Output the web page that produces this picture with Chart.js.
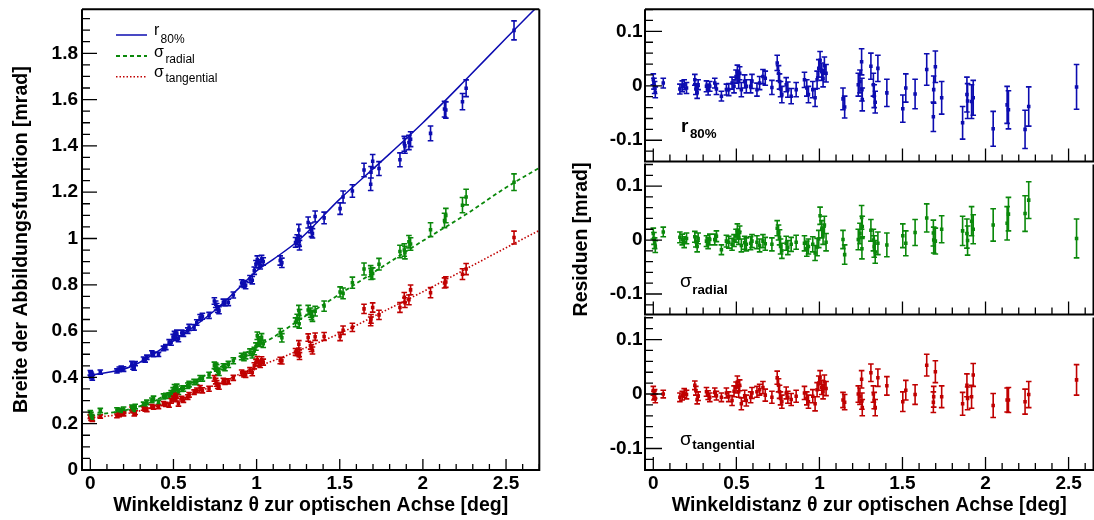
<!DOCTYPE html>
<html>
<head>
<meta charset="utf-8">
<script src="https://cdn.jsdelivr.net/npm/chart.js@4.4.1/dist/chart.umd.min.js"></script>
<style>
  html, body { margin: 0; padding: 0; background: #fff; overflow: hidden; }
  #wrap { position: relative; width: 1094px; height: 520px; overflow: hidden; }
  canvas { position: absolute; }
</style>
</head>
<body>
<div id="wrap">
  <canvas id="links" width="560" height="520" style="left:0;top:0"></canvas>
  <canvas id="resR80" width="536" height="164" style="left:560px;top:0"></canvas>
  <canvas id="resRad" width="536" height="155" style="left:560px;top:162px"></canvas>
  <canvas id="resTan" width="536" height="205" style="left:560px;top:315px"></canvas>
</div>
<script>
// Winkeldistanz der Messpunkte [deg]
const theta = [0.000,0.004,0.008,0.012,0.060,0.160,0.174,0.186,0.200,0.250,
  0.256,0.264,0.270,0.320,0.330,0.340,0.370,0.380,0.410,0.440,
  0.454,0.474,0.486,0.498,0.506,0.514,0.520,0.530,0.550,0.560,
  0.586,0.594,0.624,0.640,0.660,0.674,0.714,0.746,0.754,0.760,
  0.766,0.774,0.800,0.810,0.830,0.860,0.910,0.924,0.934,0.960,
  0.974,0.986,0.996,1.004,1.014,1.022,1.030,1.040,1.142,1.152,
  1.234,1.244,1.254,1.256,1.258,1.310,1.325,1.330,1.336,1.352,
  1.406,1.502,1.520,1.576,1.646,1.686,1.688,1.698,1.736,1.862,
  1.888,1.892,1.916,1.926,2.046,2.130,2.138,2.238,2.260,2.548];

// r80% [mrad]
const r80 = [0.420,0.413,0.406,0.398,0.423,0.428,0.435,0.440,0.436,0.459,
  0.445,0.442,0.459,0.478,0.476,0.487,0.506,0.499,0.499,0.525,
  0.531,0.552,0.551,0.574,0.587,0.573,0.592,0.567,0.592,0.589,
  0.602,0.616,0.616,0.637,0.659,0.664,0.668,0.730,0.716,0.705,
  0.695,0.690,0.725,0.723,0.724,0.756,0.808,0.803,0.798,0.825,
  0.820,0.861,0.889,0.909,0.892,0.884,0.911,0.901,0.905,0.895,
  0.983,0.995,1.037,0.987,0.971,1.069,1.046,1.029,1.022,1.095,
  1.089,1.129,1.179,1.205,1.296,1.234,1.286,1.334,1.302,1.340,
  1.409,1.400,1.415,1.429,1.454,1.559,1.555,1.591,1.649,1.899];
const r80Res = [0.012,0.004,-0.003,-0.012,0.005,-0.006,-0.001,0.002,-0.004,0.011,
  -0.006,-0.012,0.002,-0.001,-0.007,-0.001,0.005,-0.006,-0.019,-0.007,
  -0.007,0.005,-0.001,0.017,0.026,0.008,0.023,-0.007,0.008,-0.001,
  -0.001,0.008,-0.007,0.005,0.017,0.014,-0.003,0.042,0.023,0.008,
  -0.006,-0.016,0.002,-0.007,-0.019,-0.007,0.011,-0.004,-0.016,-0.007,
  -0.022,0.011,0.032,0.047,0.026,0.014,0.037,0.023,-0.024,-0.039,
  0.002,0.008,0.044,-0.007,-0.025,0.036,0.002,-0.019,-0.030,0.032,
  -0.013,-0.042,-0.004,-0.015,0.030,-0.057,-0.007,0.035,-0.022,-0.068,
  -0.016,-0.028,-0.029,-0.022,-0.079,-0.035,-0.044,-0.080,-0.038,-0.002];
const r80Err = [0.010,0.010,0.011,0.010,0.009,0.009,0.010,0.009,0.010,0.010,
  0.010,0.011,0.009,0.010,0.010,0.009,0.009,0.010,0.009,0.010,
  0.011,0.011,0.012,0.012,0.012,0.013,0.012,0.013,0.012,0.012,
  0.012,0.013,0.012,0.012,0.013,0.013,0.013,0.014,0.014,0.014,
  0.014,0.015,0.013,0.014,0.014,0.013,0.014,0.015,0.015,0.015,
  0.016,0.016,0.016,0.016,0.016,0.016,0.016,0.016,0.020,0.020,
  0.021,0.021,0.024,0.021,0.021,0.024,0.021,0.021,0.020,0.024,
  0.025,0.025,0.026,0.027,0.029,0.027,0.025,0.029,0.030,0.030,
  0.032,0.032,0.031,0.032,0.032,0.034,0.035,0.035,0.036,0.041];

// sigma radial [mrad]
const sigRad = [0.247,0.238,0.230,0.224,0.257,0.259,0.257,0.253,0.262,0.271,
  0.264,0.257,0.274,0.283,0.282,0.292,0.301,0.309,0.293,0.318,
  0.320,0.322,0.332,0.344,0.357,0.346,0.359,0.338,0.351,0.352,
  0.364,0.371,0.380,0.380,0.396,0.396,0.410,0.452,0.448,0.441,
  0.426,0.422,0.446,0.442,0.456,0.472,0.490,0.486,0.494,0.509,
  0.498,0.514,0.533,0.580,0.559,0.550,0.573,0.545,0.594,0.571,
  0.638,0.654,0.689,0.632,0.674,0.691,0.680,0.670,0.663,0.686,
  0.708,0.769,0.763,0.809,0.868,0.859,0.847,0.849,0.889,0.944,
  0.950,0.939,0.986,0.976,1.038,1.078,1.099,1.144,1.179,1.243];
const sigRadRes = [0.012,0.003,-0.006,-0.012,0.015,0.005,0.001,-0.004,0.003,0.006,
  -0.003,-0.012,0.003,-0.002,-0.006,0.001,0.001,0.007,-0.018,-0.002,
  -0.004,-0.008,-0.001,0.008,0.018,0.004,0.014,-0.010,-0.005,-0.008,
  -0.006,-0.002,-0.004,-0.010,-0.002,-0.007,-0.008,0.022,0.014,0.005,
  -0.012,-0.020,-0.006,-0.014,-0.008,-0.004,-0.006,-0.016,-0.012,-0.008,
  -0.024,-0.013,0.002,0.045,0.020,0.008,0.028,-0.004,0.001,-0.027,
  0.001,0.012,0.042,-0.016,0.025,0.018,0.000,-0.012,-0.022,-0.006,
  -0.009,0.008,-0.006,0.014,0.041,0.013,0.000,-0.002,0.020,0.017,
  0.012,-0.001,0.035,0.020,0.028,0.031,0.048,0.049,0.074,0.003];
const sigRadErr = [0.010,0.011,0.010,0.011,0.009,0.010,0.010,0.010,0.010,0.010,
  0.010,0.010,0.010,0.010,0.010,0.010,0.010,0.010,0.009,0.011,
  0.011,0.011,0.011,0.012,0.012,0.012,0.012,0.012,0.012,0.012,
  0.012,0.012,0.012,0.012,0.012,0.012,0.012,0.014,0.014,0.014,
  0.014,0.014,0.013,0.013,0.013,0.013,0.014,0.014,0.014,0.014,
  0.014,0.016,0.016,0.016,0.016,0.016,0.016,0.016,0.017,0.018,
  0.019,0.019,0.022,0.019,0.019,0.020,0.020,0.020,0.021,0.021,
  0.022,0.022,0.023,0.024,0.026,0.024,0.024,0.024,0.025,0.027,
  0.027,0.027,0.027,0.027,0.030,0.031,0.031,0.033,0.034,0.036];

// sigma tangential [mrad]
const sigTan = [0.231,0.222,0.226,0.218,0.231,0.234,0.238,0.244,0.242,0.264,
  0.255,0.241,0.248,0.266,0.262,0.260,0.275,0.271,0.273,0.287,
  0.283,0.280,0.299,0.309,0.321,0.305,0.319,0.287,0.308,0.302,
  0.315,0.325,0.336,0.344,0.354,0.344,0.351,0.396,0.384,0.374,
  0.364,0.361,0.385,0.380,0.383,0.398,0.420,0.414,0.412,0.430,
  0.420,0.450,0.465,0.477,0.462,0.456,0.476,0.466,0.473,0.472,
  0.510,0.509,0.543,0.504,0.492,0.572,0.537,0.527,0.516,0.576,
  0.577,0.577,0.604,0.616,0.696,0.642,0.653,0.702,0.670,0.702,
  0.746,0.723,0.735,0.778,0.766,0.808,0.812,0.846,0.868,1.004];
const sigTanRes = [0.006,-0.003,0.000,-0.008,0.000,-0.006,-0.003,0.002,-0.001,0.016,
  0.006,-0.010,-0.004,0.004,-0.002,-0.006,0.003,-0.003,-0.006,0.002,
  -0.005,-0.012,0.005,0.012,0.022,0.004,0.016,-0.018,-0.003,-0.012,
  -0.006,0.002,0.004,0.008,0.012,-0.002,-0.006,0.030,0.016,0.004,
  -0.008,-0.014,0.002,-0.006,-0.010,-0.004,0.002,-0.008,-0.014,-0.004,
  -0.018,0.008,0.020,0.030,0.012,0.004,0.022,0.010,-0.011,-0.015,
  0.000,-0.004,0.027,-0.013,-0.025,0.039,0.000,-0.012,-0.025,0.030,
  0.015,-0.014,0.007,-0.001,0.053,-0.015,-0.005,0.041,-0.005,-0.018,
  0.016,-0.008,-0.005,0.035,-0.021,-0.011,-0.011,-0.014,-0.001,0.026];
const sigTanErr = [0.008,0.008,0.008,0.008,0.007,0.008,0.008,0.008,0.008,0.008,
  0.008,0.008,0.008,0.008,0.008,0.008,0.008,0.008,0.008,0.009,
  0.009,0.009,0.010,0.010,0.011,0.010,0.010,0.011,0.010,0.010,
  0.010,0.010,0.010,0.010,0.011,0.011,0.011,0.012,0.012,0.012,
  0.012,0.012,0.011,0.011,0.011,0.011,0.012,0.012,0.012,0.012,
  0.013,0.013,0.013,0.013,0.013,0.013,0.013,0.013,0.014,0.014,
  0.015,0.015,0.016,0.015,0.015,0.016,0.015,0.015,0.015,0.016,
  0.017,0.018,0.018,0.018,0.020,0.019,0.019,0.020,0.020,0.021,
  0.021,0.021,0.021,0.021,0.022,0.022,0.023,0.023,0.024,0.028];

// Fitkurven
const fitTheta = [0, 0.25, 0.5, 0.75, 0.9, 1.0, 1.1, 1.25, 1.5, 1.75, 2.0, 2.25, 2.5, 2.7];
const fitR80 = [0.408, 0.448, 0.558, 0.69, 0.79, 0.86, 0.91, 0.99, 1.17, 1.333, 1.50, 1.68, 1.865, 2.01];
const fitRad = [0.235, 0.265, 0.337, 0.432, 0.492, 0.533, 0.573, 0.645, 0.76, 0.875, 0.99, 1.10, 1.22, 1.305];
const fitTan = [0.225, 0.248, 0.297, 0.367, 0.415, 0.446, 0.472, 0.515, 0.59, 0.68, 0.77, 0.865, 0.96, 1.035];

// Achsenbeschriftungen
const xTicks = [0, 0.5, 1, 1.5, 2, 2.5];
const xTickLabels = ['0', '0.5', '1', '1.5', '2', '2.5'];
const yTicks = [0, 0.2, 0.4, 0.6, 0.8, 1, 1.2, 1.4, 1.6, 1.8];
const yTickLabels = ['0', '0.2', '0.4', '0.6', '0.8', '1', '1.2', '1.4', '1.6', '1.8'];
const resTicks = [-0.1, 0, 0.1];
const resTickLabels = ['-0.1', '0', '0.1'];

const BLAU = '#0c0cb0';
const GRUEN = '#0a880a';
const ROT = '#c00000';
const SCHRIFT = "'Liberation Sans', Arial, Helvetica, sans-serif";

const tickFont = { family: SCHRIFT, size: 19, weight: 'bold' };
const titelFont = { family: SCHRIFT, size: 19.5, weight: 'bold' };

// Fehlerbalken mit kleinen Endstrichen
const fehlerbalken = {
  id: 'fehlerbalken',
  beforeDatasetsDraw(chart) {
    const { ctx, chartArea: a } = chart;
    const xs = chart.scales.x, ys = chart.scales.y;
    ctx.save();
    ctx.beginPath();
    ctx.rect(a.left, a.top, a.right - a.left, a.bottom - a.top);
    ctx.clip();
    chart.data.datasets.forEach(ds => {
      if (!ds.fehler) return;
      ctx.strokeStyle = ds.borderColor;
      ctx.lineWidth = 1.6;
      ctx.beginPath();
      ds.data.forEach((p, i) => {
        const px = xs.getPixelForValue(p.x);
        const y1 = ys.getPixelForValue(p.y - ds.fehler[i]);
        const y2 = ys.getPixelForValue(p.y + ds.fehler[i]);
        ctx.moveTo(px, y1); ctx.lineTo(px, y2);
        ctx.moveTo(px - 2.8, y1); ctx.lineTo(px + 2.8, y1);
        ctx.moveTo(px - 2.8, y2); ctx.lineTo(px + 2.8, y2);
      });
      ctx.stroke();
    });
    ctx.restore();
  }
};

// Striche nach innen (ROOT-Stil) und Rahmen
function achsenPlugin(c) {
  return {
    id: 'rootAchsen',
    afterDatasetsDraw(chart) {
      const { ctx, chartArea: a } = chart;
      const xs = chart.scales.x, ys = chart.scales.y;
      ctx.save();
      ctx.strokeStyle = '#000';
      ctx.lineWidth = 1.3;
      ctx.beginPath();
      for (let n = Math.ceil(xs.min / c.xKlein - 1e-6); n <= Math.floor(xs.max / c.xKlein + 1e-6); n++) {
        const v = n * c.xKlein;
        const gross = Math.abs(v / c.xGross - Math.round(v / c.xGross)) < 1e-6;
        const px = xs.getPixelForValue(v);
        ctx.moveTo(px, a.bottom);
        ctx.lineTo(px, a.bottom - (gross ? c.xLang : c.xKurz));
      }
      for (let n = Math.ceil(ys.min / c.yKlein - 1e-6); n <= Math.floor(ys.max / c.yKlein + 1e-6); n++) {
        const v = n * c.yKlein;
        const gross = Math.abs(v / c.yGross - Math.round(v / c.yGross)) < 1e-6;
        const py = ys.getPixelForValue(v);
        ctx.moveTo(a.left, py);
        ctx.lineTo(a.left + (gross ? c.yLang : c.yKurz), py);
      }
      ctx.stroke();
      // Rahmen; bei den unteren Residuen-Bildern ohne obere Kante (liegt auf der Achse darueber)
      ctx.lineWidth = 2;
      ctx.beginPath();
      if (c.obenRand !== false) {
        ctx.moveTo(a.left, a.top);
        ctx.lineTo(a.right, a.top);
      }
      ctx.moveTo(a.right, a.top);
      ctx.lineTo(a.right, a.bottom);
      ctx.lineTo(a.left, a.bottom);
      ctx.lineTo(a.left, a.top - (c.obenRand === false ? 1 : 0));
      ctx.stroke();
      ctx.restore();
    }
  };
}

// Legende und Beschriftungen mit Index
function textPlugin(eintraege) {
  return {
    id: 'beschriftung',
    afterDraw(chart) {
      const { ctx, chartArea: a } = chart;
      ctx.save();
      eintraege.forEach(e => {
        if (e.linie) {
          ctx.strokeStyle = e.farbe;
          ctx.lineWidth = e.breite;
          ctx.setLineDash(e.strich);
          ctx.beginPath();
          ctx.moveTo(a.left + e.linie[0], a.top + e.linieY);
          ctx.lineTo(a.left + e.linie[1], a.top + e.linieY);
          ctx.stroke();
          ctx.setLineDash([]);
        }
        ctx.fillStyle = '#000';
        ctx.textAlign = 'left';
        ctx.textBaseline = 'alphabetic';
        ctx.font = e.hauptFont;
        ctx.fillText(e.haupt, a.left + e.x, a.top + e.y);
        const w = ctx.measureText(e.haupt).width;
        ctx.font = e.subFont;
        ctx.fillText(e.sub, a.left + e.x + w + e.abstand, a.top + e.subY);
      });
      ctx.restore();
    }
  };
}

function punkte(werte, fehler, farbe) {
  return {
    type: 'scatter',
    data: theta.map((t, i) => ({ x: t, y: werte[i] })),
    fehler: fehler,
    backgroundColor: farbe,
    borderColor: farbe,
    pointStyle: 'rect',
    pointRadius: 2.5,
    pointBorderWidth: 0,
    pointHoverRadius: 2.5
  };
}

function kurve(werte, farbe, strich, breite) {
  return {
    type: 'line',
    data: fitTheta.map((t, i) => ({ x: t, y: werte[i] })),
    borderColor: farbe,
    borderWidth: breite,
    borderDash: strich,
    pointRadius: 0,
    fill: false,
    cubicInterpolationMode: 'monotone'
  };
}

// feste Achsengroessen, keine automatische Randzugabe
function festeHoehe(h) {
  return s => { s.height = h; s.paddingLeft = 0; s.paddingRight = 0; s.paddingTop = 0; s.paddingBottom = 0; };
}
function festeBreite(w) {
  return s => { s.width = w; s.paddingLeft = 0; s.paddingRight = 0; s.paddingTop = 0; s.paddingBottom = 0; };
}

function xAchse(min, max, hoehe, mitText) {
  return {
    type: 'linear', min: min, max: max,
    afterFit: festeHoehe(hoehe),
    afterBuildTicks: s => { s.ticks = xTicks.map(v => ({ value: v })); },
    ticks: { display: mitText, callback: (v, i) => xTickLabels[i], font: tickFont, color: '#000',
             padding: 2, maxRotation: 0, autoSkip: false },
    grid: { display: false, drawTicks: false },
    border: { display: false },
    title: { display: mitText, text: 'Winkeldistanz \u03b8 zur optischen Achse [deg]', font: titelFont,
             color: '#000', padding: { top: 0, bottom: 2.5 } }
  };
}

Chart.defaults.font.family = SCHRIFT;

// linkes Bild: Breite der Abbildungsfunktion
new Chart(document.getElementById('links'), {
  type: 'scatter',
  data: {
    datasets: [
      punkte(r80, r80Err, BLAU),
      punkte(sigRad, sigRadErr, GRUEN),
      punkte(sigTan, sigTanErr, ROT),
      kurve(fitR80, BLAU, [], 1.5),
      kurve(fitRad, GRUEN, [4, 3], 1.8),
      kurve(fitTan, ROT, [1.5, 2], 1.6)
    ]
  },
  options: {
    responsive: false, animation: false, devicePixelRatio: 1,
    layout: { padding: { top: 9.3, right: 20.7, left: 0, bottom: 0 } },
    plugins: { legend: { display: false }, tooltip: { enabled: false } },
    scales: {
      x: xAchse(-0.05, 2.7, 50, true),
      y: {
        type: 'linear', min: 0, max: 1.99,
        afterFit: festeBreite(82),
        afterBuildTicks: s => { s.ticks = yTicks.map(v => ({ value: v })); },
        ticks: { callback: (v, i) => yTickLabels[i], font: tickFont, color: '#000', padding: 4, autoSkip: false },
        grid: { display: false, drawTicks: false },
        border: { display: false },
        title: { display: true, text: 'Breite der Abbildungsfunktion [mrad]', font: titelFont, color: '#000',
                 padding: { top: 10, bottom: 0 } }
      }
    }
  },
  plugins: [
    fehlerbalken,
    achsenPlugin({ xKlein: 0.1, xGross: 0.5, xLang: 11, xKurz: 6, yKlein: 0.05, yGross: 0.2, yLang: 15, yKurz: 8 }),
    textPlugin([
      { linie: [34, 65], linieY: 25.7, farbe: BLAU, breite: 1.5, strich: [], haupt: 'r', x: 72, y: 25.7,
        sub: '80%', subY: 34, abstand: 1.2, hauptFont: '16px ' + SCHRIFT, subFont: '12px ' + SCHRIFT },
      { linie: [34, 65], linieY: 46.7, farbe: GRUEN, breite: 1.8, strich: [4, 3], haupt: '\u03c3', x: 72, y: 48,
        sub: 'radial', subY: 53.4, abstand: 1.5, hauptFont: '16px ' + SCHRIFT, subFont: '12px ' + SCHRIFT },
      { linie: [34, 65], linieY: 67.4, farbe: ROT, breite: 1.5, strich: [1.5, 2], haupt: '\u03c3', x: 72, y: 67.4,
        sub: 'tangential', subY: 72.4, abstand: 1.5, hauptFont: '16px ' + SCHRIFT, subFont: '12px ' + SCHRIFT }
    ])
  ]
});

// rechte Bilder: Residuen
function residuenChart(id, res, fehler, farbe, p) {
  new Chart(document.getElementById(id), {
    type: 'scatter',
    data: { datasets: [punkte(res, fehler, farbe)] },
    options: {
      responsive: false, animation: false, devicePixelRatio: 1,
      layout: { padding: { top: p.oben, right: 1, left: 0, bottom: 0 } },
      plugins: { legend: { display: false }, tooltip: { enabled: false } },
      scales: {
        x: xAchse(-0.05, 2.65, p.xHoehe, p.unten),
        y: {
          type: 'linear', min: p.min, max: p.max,
          afterFit: festeBreite(85),
          afterBuildTicks: s => { s.ticks = resTicks.map(v => ({ value: v })); },
          ticks: { callback: (v, i) => resTickLabels[i], font: tickFont, color: '#000', padding: 2.5, autoSkip: false },
          grid: { display: false, drawTicks: false },
          border: { display: false },
          title: { display: p.titel, text: 'Residuen [mrad]', font: titelFont, color: '#000',
                   padding: { top: 10, bottom: 0 } }
        }
      }
    },
    plugins: [
      fehlerbalken,
      achsenPlugin({ xKlein: 0.1, xGross: 0.5, xLang: 13, xKurz: 7, yKlein: 0.02, yGross: 0.1, yLang: 17, yKurz: 8,
                     obenRand: p.obenRand }),
      textPlugin([p.label])
    ]
  });
}

residuenChart('resR80', r80Res, r80Err, BLAU, {
  oben: 9.3, xHoehe: 0.7, unten: false, titel: false, min: -0.139, max: 0.1405, obenRand: true,
  label: { haupt: 'r', x: 36, y: 122.4, sub: '80%', subY: 129, abstand: 1.5,
           hauptFont: 'bold 19px ' + SCHRIFT, subFont: 'bold 13.3px ' + SCHRIFT }
});
residuenChart('resRad', sigRadRes, sigRadErr, GRUEN, {
  oben: 1, xHoehe: 1, unten: false, titel: true, min: -0.138, max: 0.14, obenRand: false,
  label: { haupt: '\u03c3', x: 35, y: 122, sub: 'radial', subY: 129, abstand: 0.5,
           hauptFont: '19px ' + SCHRIFT, subFont: 'bold 13.3px ' + SCHRIFT }
});
residuenChart('resTan', sigTanRes, sigTanErr, ROT, {
  oben: 1.3, xHoehe: 50, unten: true, titel: false, min: -0.1395, max: 0.1405, obenRand: false,
  label: { haupt: '\u03c3', x: 35, y: 127, sub: 'tangential', subY: 131.7, abstand: 0.5,
           hauptFont: '19px ' + SCHRIFT, subFont: 'bold 13.3px ' + SCHRIFT }
});
</script>
</body>
</html>
